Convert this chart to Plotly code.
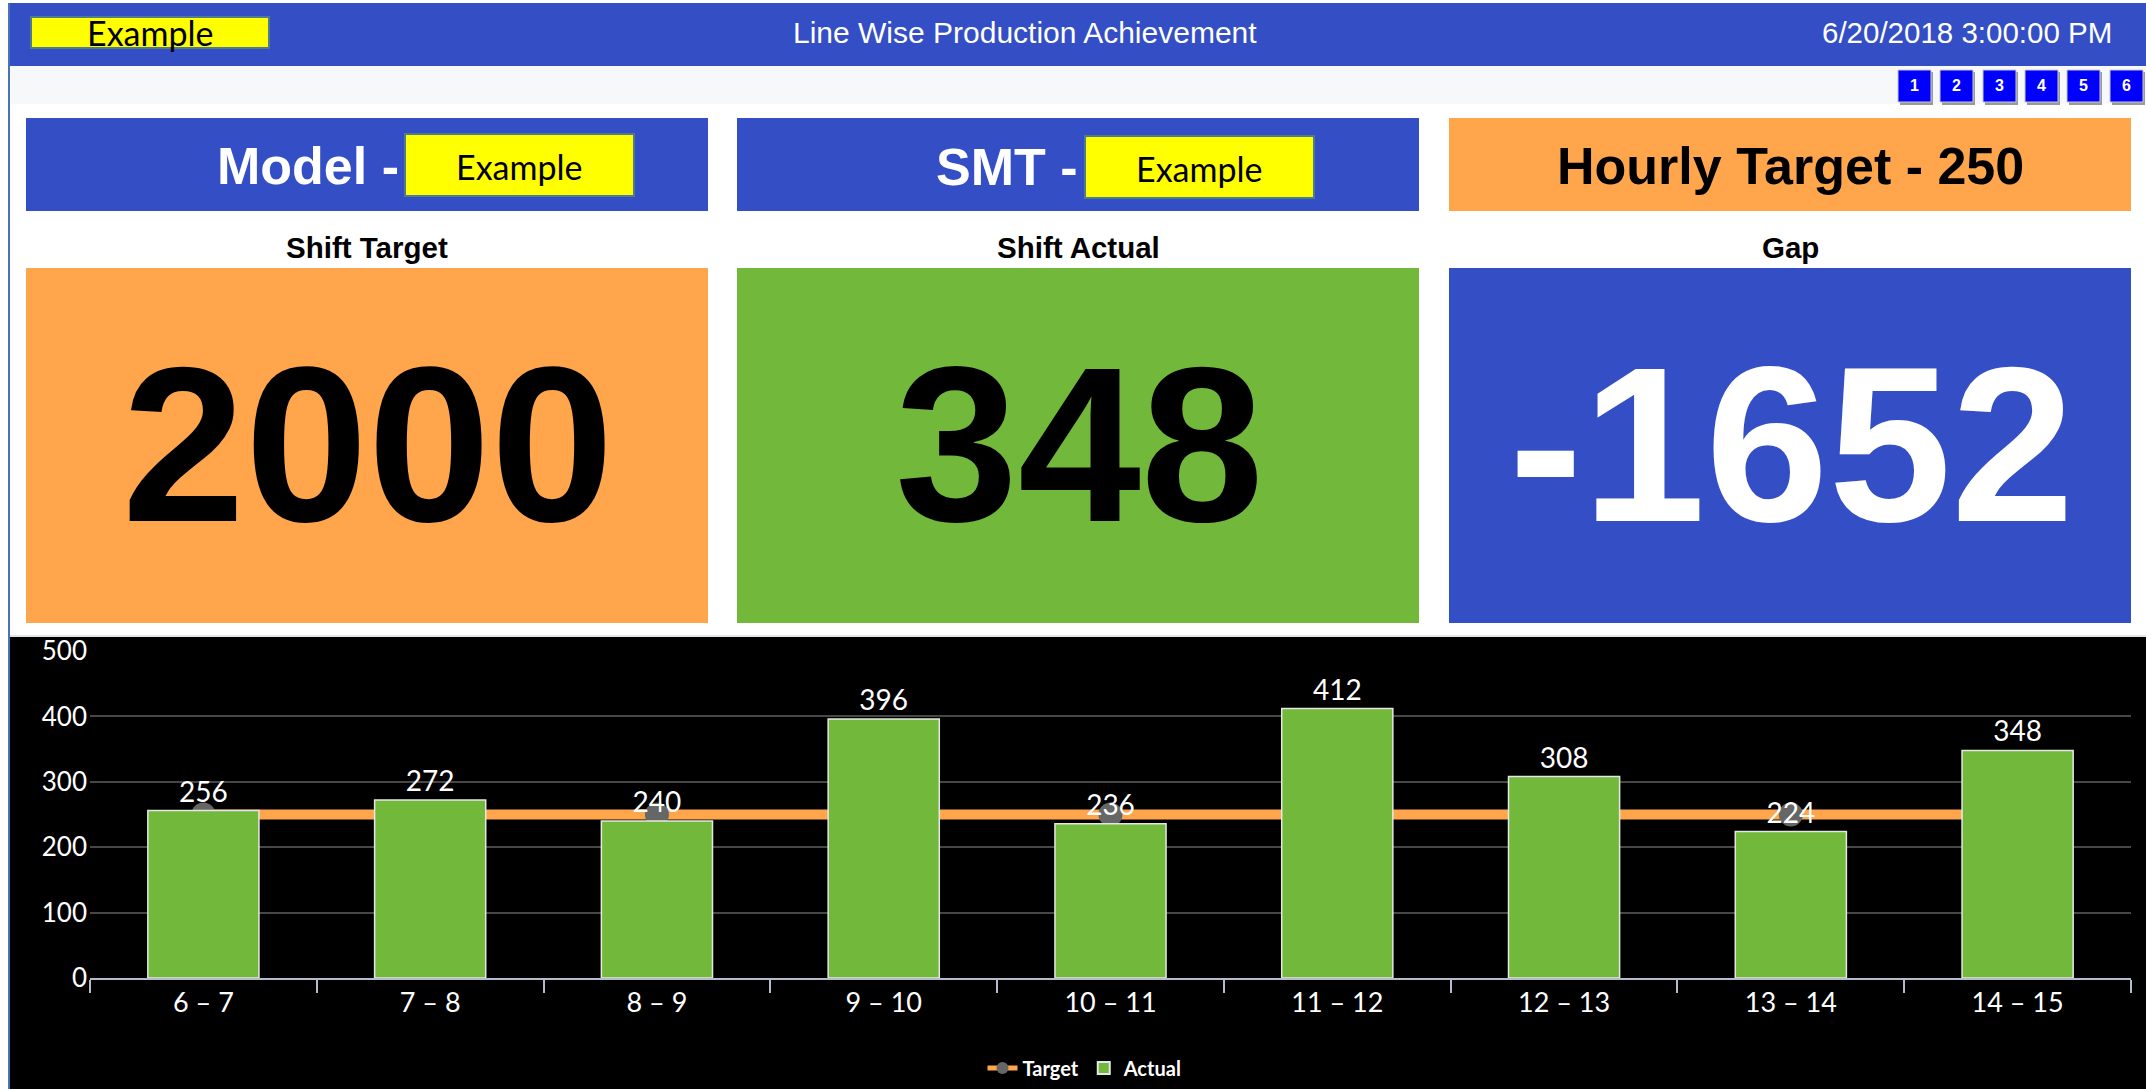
import plotly.graph_objects as go

# ---------------- data ----------------
categories = ["6 – 7", "7 – 8", "8 – 9", "9 – 10", "10 – 11", "11 – 12", "12 – 13", "13 – 14", "14 – 15"]
actual = [256, 272, 240, 396, 236, 412, 308, 224, 348]
target = [250, 250, 250, 250, 250, 250, 250, 250, 250]
y_ticks = [0, 100, 200, 300, 400, 500]
page_buttons = ["1", "2", "3", "4", "5", "6"]

header_title = "Line Wise Production Achievement"
header_date = "6/20/2018 3:00:00 PM"
header_tag = "Example"
model_name = "Example"
smt_name = "Example"
hourly_target = 250
card_titles = ["Shift Target", "Shift Actual", "Gap"]
card_values = [2000, 348, -1652]

# ---------------- styling ----------------
W, H = 2146, 1089
BLUE = "#344EC5"
ORANGE = "#FFA64D"
GREEN = "#72B93B"
YELLOW = "#FFFF00"
ARIAL = "Liberation Sans, Arial, sans-serif"
CAL = "Lato, Open Sans, sans-serif"


def px(x):
    return x / W


def py(y):
    return 1 - y / H


shapes = []
annotations = []


def rect(x0, y0, x1, y1, fill, line_color=None, line_width=0):
    shapes.append(dict(type="rect", xref="paper", yref="paper",
                       x0=px(x0), x1=px(x1), y0=py(y1), y1=py(y0),
                       fillcolor=fill, layer="below",
                       line=dict(color=line_color or fill, width=line_width)))


def text(s, x, y, size, color, family=ARIAL, weight="normal", xanchor="center"):
    annotations.append(dict(text=s, x=px(x), y=py(y), xref="paper", yref="paper",
                            xanchor=xanchor, yanchor="middle", showarrow=False,
                            font=dict(size=size, color=color, family=family, weight=weight)))


# header
rect(9, 3, W, 66, BLUE)
rect(10, 66, W, 104, "#F7F8FA")
rect(31, 17, 269, 48, YELLOW, "#4F7C8A", 2)
text(header_tag, 150, 33, 34, "black", CAL)
text(header_title, 1025, 32, 30, "white")
text(header_date, 2114, 32, 29.5, "white", xanchor="right")

# page buttons
btn_x = [1898, 1940, 1983, 2025, 2067, 2110]
for bx, lab in zip(btn_x, page_buttons):
    rect(bx + 2, 72, bx + 35, 105, "#9A9A9A")
    rect(bx, 70, bx + 33, 102, "#0000FF", "#C8C8C8", 1)
    text(lab, bx + 16.5, 86, 16, "white", weight="bold")

# top cards
card_x = [(26, 708), (737, 1419), (1449, 2131)]
rect(card_x[0][0], 118, card_x[0][1], 211, BLUE)
rect(card_x[1][0], 118, card_x[1][1], 211, BLUE)
rect(card_x[2][0], 118, card_x[2][1], 211, ORANGE)
rect(405, 134, 634, 196, YELLOW, "#4F7C8A", 2)
rect(1085, 136, 1314, 198, YELLOW, "#4F7C8A", 2)
text("Model -", 401, 166, 52, "white", weight="bold", xanchor="right")
text(model_name, 519, 166, 34, "black", CAL)
text("SMT -", 1080, 167, 52, "white", weight="bold", xanchor="right")
text(smt_name, 1199, 168, 34, "black", CAL)
text(f"Hourly Target - {hourly_target}", 1790, 166, 52, "black", weight="bold")

# big cards
big_fill = [ORANGE, GREEN, BLUE]
big_font = ["black", "black", "white"]
for (x0, x1), f, fc, t, v in zip(card_x, big_fill, big_font, card_titles, card_values):
    rect(x0, 268, x1, 623, f)
    text(t, (x0 + x1) / 2, 247, 29.5, "black", weight="bold")
    text(str(v), (x0 + x1) / 2 + 1, 445, 221, fc, weight="bold")

# chart background
rect(10, 637, W, H, "black")
shapes.append(dict(type="line", xref="paper", yref="paper", x0=px(9), x1=px(9), y0=0, y1=py(3),
                   line=dict(color="#4A72B8", width=2), layer="above"))
shapes.append(dict(type="line", xref="paper", yref="paper", x0=px(10), x1=1, y0=py(636), y1=py(636),
                   line=dict(color="#C8C8C8", width=1), layer="below"))

fig = go.Figure()
fig.add_trace(go.Scatter(
    x=categories, y=target, name="Target", mode="lines+markers",
    line=dict(color=ORANGE, width=10),
    marker=dict(size=24, color="#666666"),
    xaxis="x", yaxis="y", hoverinfo="skip",
))
fig.add_trace(go.Bar(
    x=categories, y=actual, name="Actual",
    marker=dict(color=GREEN, line=dict(color="#E6E6E6", width=1.5)),
    text=actual, textposition="outside", cliponaxis=False,
    textfont=dict(color="white", size=28, family=CAL),
    xaxis="x", yaxis="y2",
))

fig.update_layout(
    width=W, height=H,
    margin=dict(l=0, r=0, t=0, b=0, pad=0, autoexpand=False),
    paper_bgcolor="white",
    plot_bgcolor="rgba(0,0,0,0)",
    bargap=0.51,
    showlegend=True,
    legend=dict(orientation="h", x=px(1085), y=py(1068), xanchor="center", yanchor="middle",
                font=dict(color="white", size=20, family=CAL, weight="bold"),
                bgcolor="rgba(0,0,0,0)", itemsizing="constant"),
    xaxis=dict(domain=[px(90), px(2131)], type="category", range=[-0.5, 8.5],
               showline=True, linecolor="#B4BCCC", linewidth=2,
               ticks="outside", tickson="boundaries", ticklen=13, tickcolor="#B4BCCC", tickwidth=1.5,
               showgrid=False, tickfont=dict(color="white", size=27, family=CAL),
               anchor="y", fixedrange=True, automargin=False),
    yaxis=dict(domain=[py(978), py(651)], range=[0, 500], tickvals=y_ticks,
               showgrid=True, gridcolor="#474747", gridwidth=1.5, zeroline=False,
               showline=False, ticks="", tickfont=dict(color="white", size=26, family=CAL),
               ticklabelstandoff=2,
               anchor="x", fixedrange=True, automargin=False),
    yaxis2=dict(domain=[py(978), py(651)], range=[0, 500], overlaying="y", visible=False,
                anchor="x", fixedrange=True),
    shapes=shapes,
    annotations=annotations,
)

fig.write_html("out.html", config={"displayModeBar": False},
               post_script="document.body.style.margin='0';document.body.style.overflow='hidden';")
